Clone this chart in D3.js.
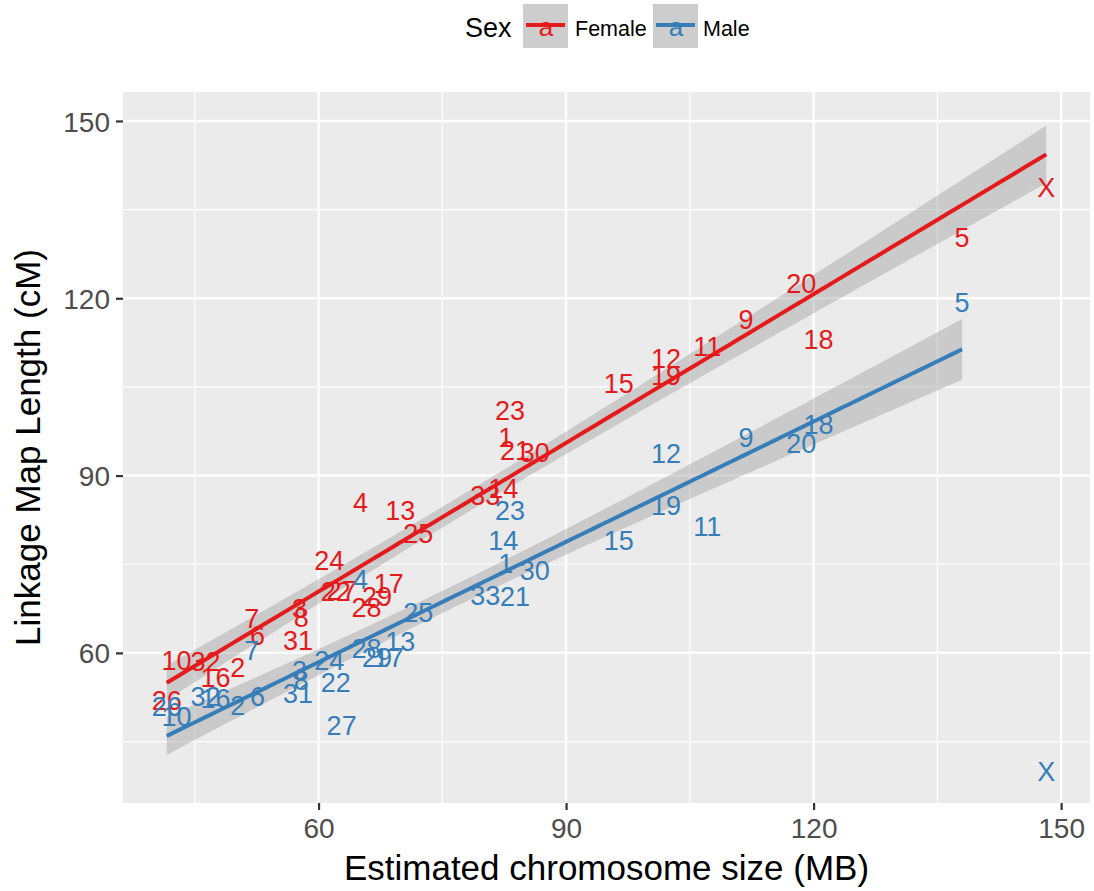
<!DOCTYPE html>
<html>
<head>
<meta charset="utf-8">
<script src="https://d3js.org/d3.v7.min.js"></script>
<style>
  body { margin: 0; background: #fff; }
  text { font-family: "Liberation Sans", Arial, sans-serif; }
</style>
</head>
<body>
<svg width="1094" height="891"></svg>
<script>
// chromosome labels and sizes (MB)
var chrom = ["1","2","3","4","5","6","7","8","9","10","11","12","13","14","15","16","17",
             "18","19","20","21","22","23","24","25","26","27","28","29","30","31","32","33","X"];
var sizeMB = [82.7, 50.2, 57.7, 65.1, 138.0, 52.6, 51.9, 57.9, 111.8, 42.8, 107.1, 102.1, 69.9, 82.4, 96.4, 47.5, 68.5,
              120.6, 102.1, 118.5, 83.8, 62.1, 83.2, 61.3, 72.1, 41.6, 62.8, 65.8, 67.1, 86.2, 57.5, 46.3, 80.2, 148.2];
// linkage map length (cM)
var femaleCM = [96.5, 57.5, 67.6, 85.5, 130.4, 63.0, 65.9, 66.1, 116.5, 58.8, 111.8, 109.9, 84.2, 87.9, 105.7, 55.9, 71.8,
                113.0, 106.9, 122.6, 94.3, 70.5, 101.0, 75.7, 80.3, 52.0, 70.6, 67.8, 69.5, 94.0, 62.2, 58.5, 86.7, 138.7];
var maleCM = [75.2, 51.2, 57.1, 72.4, 119.4, 52.6, 60.5, 55.4, 96.5, 49.2, 81.5, 93.8, 61.9, 79.1, 79.1, 52.4, 59.2,
              98.6, 84.9, 95.4, 69.5, 55.1, 84.2, 58.8, 66.9, 51.0, 47.8, 60.8, 59.2, 74.0, 53.2, 52.6, 69.8, 39.9];

var sexes = ["Female", "Male"];
var colors = ["#E41A1C", "#377EB8"];
var xTicks = [60, 90, 120, 150], xMinor = [45, 75, 105, 135];
var yTicks = [60, 90, 120, 150], yMinor = [45, 75, 105, 135];

var svg = d3.select("svg");
var margin = {left: 123, right: 4, top: 92, bottom: 88};
var width = 1094 - margin.left - margin.right,
    height = 891 - margin.top - margin.bottom;

var x = d3.scaleLinear().domain([36.3, 153.5]).range([margin.left, margin.left + width]);
var y = d3.scaleLinear().domain([34.6, 154.9]).range([margin.top + height, margin.top]);

// lm fit with 95% confidence band (like geom_smooth(method="lm"))
function lmFit(xs, ys, tq) {
  var n = xs.length, mx = d3.mean(xs), my = d3.mean(ys);
  var sxx = d3.sum(xs, function(v) { return (v - mx) * (v - mx); });
  var sxy = d3.sum(xs, function(v, i) { return (v - mx) * (ys[i] - my); });
  var b = sxy / sxx, a = my - b * mx;
  var rss = d3.sum(xs, function(v, i) { var r = ys[i] - (a + b * v); return r * r; });
  var s = Math.sqrt(rss / (n - 2));
  var x0 = d3.min(xs), x1 = d3.max(xs);
  return d3.range(81).map(function(i) {
    var xv = x0 + (x1 - x0) * i / 80;
    var f = a + b * xv;
    var se = s * Math.sqrt(1 / n + (xv - mx) * (xv - mx) / sxx);
    return {x: xv, y: f, lo: f - tq * se, hi: f + tq * se};
  });
}

var femaleFit = lmFit(sizeMB, femaleCM, 2.037);
// male X is left out of the fit
var maleFit = lmFit(sizeMB.slice(0, 33), maleCM.slice(0, 33), 2.040);
var fits = [femaleFit, maleFit];

// panel
svg.append("rect")
  .attr("x", margin.left).attr("y", margin.top)
  .attr("width", width).attr("height", height)
  .attr("fill", "#EBEBEB");

var grid = svg.append("g");
grid.selectAll(".xminor").data(xMinor).enter().append("line")
  .attr("x1", x).attr("x2", x).attr("y1", margin.top).attr("y2", margin.top + height)
  .attr("stroke", "#fff").attr("stroke-width", 1.2);
grid.selectAll(".yminor").data(yMinor).enter().append("line")
  .attr("y1", y).attr("y2", y).attr("x1", margin.left).attr("x2", margin.left + width)
  .attr("stroke", "#fff").attr("stroke-width", 1.2);
grid.selectAll(".xmajor").data(xTicks).enter().append("line")
  .attr("x1", x).attr("x2", x).attr("y1", margin.top).attr("y2", margin.top + height)
  .attr("stroke", "#fff").attr("stroke-width", 2.4);
grid.selectAll(".ymajor").data(yTicks).enter().append("line")
  .attr("y1", y).attr("y2", y).attr("x1", margin.left).attr("x2", margin.left + width)
  .attr("stroke", "#fff").attr("stroke-width", 2.4);

// axes
var xAxis = svg.append("g")
  .attr("transform", "translate(0," + (margin.top + height) + ")")
  .call(d3.axisBottom(x).tickValues(xTicks).tickSize(7).tickPadding(6));
var yAxis = svg.append("g")
  .attr("transform", "translate(" + margin.left + ",0)")
  .call(d3.axisLeft(y).tickValues(yTicks).tickSize(7).tickPadding(6));
[xAxis, yAxis].forEach(function(ax) {
  ax.select(".domain").remove();
  ax.selectAll(".tick line").attr("stroke", "#333").attr("stroke-width", 2.2);
  ax.selectAll(".tick text").attr("fill", "#4D4D4D")
    .style("font-size", "28px").style("font-family", "Liberation Sans, Arial, sans-serif");
});
yAxis.selectAll(".tick text").attr("dy", "0.36em");
xAxis.selectAll(".tick text").attr("dy", "0.78em");

// ribbons
var area = d3.area().x(function(d) { return x(d.x); })
  .y0(function(d) { return y(d.lo); }).y1(function(d) { return y(d.hi); });
var line = d3.line().x(function(d) { return x(d.x); }).y(function(d) { return y(d.y); });

svg.append("g").selectAll("path").data(fits).enter().append("path")
  .attr("d", area).attr("fill", "#999999").attr("fill-opacity", 0.4);

// text labels
var labels = svg.append("g");
[femaleCM, maleCM].forEach(function(vals, s) {
  labels.append("g").selectAll("text").data(vals).enter().append("text")
    .attr("x", function(d, i) { return x(sizeMB[i]); })
    .attr("y", function(d) { return y(d); })
    .attr("dy", "0.36em")
    .attr("text-anchor", "middle")
    .attr("fill", colors[s])
    .style("font-size", "27px")
    .text(function(d, i) { return chrom[i]; });
});

// fitted lines
svg.append("g").selectAll("path").data(fits).enter().append("path")
  .attr("d", line).attr("fill", "none")
  .attr("stroke", function(d, i) { return colors[i]; })
  .attr("stroke-width", 4);

// axis titles
svg.append("text")
  .attr("x", margin.left + width / 2).attr("y", 880)
  .attr("text-anchor", "middle").style("font-size", "35px")
  .text("Estimated chromosome size (MB)");
svg.append("text")
  .attr("transform", "translate(40," + (margin.top + height / 2) + ") rotate(-90)")
  .attr("text-anchor", "middle").style("font-size", "35px")
  .text("Linkage Map Length (cM)");

// legend
var legend = svg.append("g");
legend.append("text").attr("x", 465).attr("y", 37).style("font-size", "27px").text("Sex");
var keyX = [523, 653], labX = [575, 703];
sexes.forEach(function(s, i) {
  var g = legend.append("g");
  g.append("rect").attr("x", keyX[i]).attr("y", 4).attr("width", 45).attr("height", 44)
    .attr("fill", "#CDCDCD");
  g.append("text").attr("x", keyX[i] + 23).attr("y", 36).attr("text-anchor", "middle")
    .attr("fill", colors[i]).style("font-size", "26px").text("a");
  g.append("line").attr("x1", keyX[i] + 3).attr("x2", keyX[i] + 42).attr("y1", 25).attr("y2", 25)
    .attr("stroke", colors[i]).attr("stroke-width", 4);
  g.append("text").attr("x", labX[i]).attr("y", 36).style("font-size", "21.5px").text(s);
});
</script>
</body>
</html>
